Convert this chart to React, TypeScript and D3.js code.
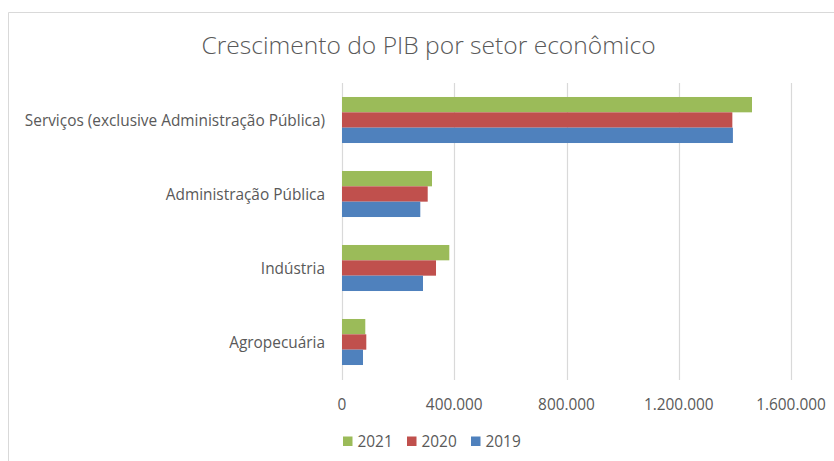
import * as d3 from 'd3';

const categories = [
  'Serviços (exclusive Administração Pública)',
  'Administração Pública',
  'Indústria',
  'Agropecuária',
];
const seriesNames = ['2021', '2020', '2019'];
const seriesColors = ['#9BBB59', '#C0504D', '#4F81BD'];
const values2021 = [1461000, 320700, 382400, 83000];
const values2020 = [1391000, 305400, 335000, 86600];
const values2019 = [1393000, 279000, 288600, 74800];
const xTicks = [0, 400000, 800000, 1200000, 1600000];

const W = 834;
const H = 461;
const textColor = '#595959';
const font = '"Open Sans", Lato, sans-serif';
const labelSize = 15.4;

const ptBR = d3.formatLocale({
  decimal: ',',
  thousands: '.',
  grouping: [3],
  currency: ['R$', ''],
});
const fmt = ptBR.format(',.0f');

export default function App() {
  const seriesValues = [values2021, values2020, values2019];

  // plot area
  const x = d3.scaleLinear().domain([0, 1600000]).range([342, 791]);
  const y = d3
    .scaleBand<string>()
    .domain(categories)
    .range([83, 379])
    .paddingInner(0.378)
    .paddingOuter(0.189);
  const ySub = d3.scaleBand<string>().domain(seriesNames).range([0, y.bandwidth()]);

  return (
    <svg
      width={W}
      height={H}
      style={{ position: 'absolute', left: 0, top: 0, background: '#fff' }}
      fontFamily={font}
    >
      <rect x={0} y={0} width={W} height={H} fill="#fff" />
      {/* chart border */}
      <path d={`M8.5,${H} V12.5 H${W}`} fill="none" stroke="#D9D9D9" strokeWidth={1} />

      <text
        x={428.5}
        y={44}
        textAnchor="middle"
        dominantBaseline="central"
        fontSize={24.6}
        fontWeight={300}
        fill={textColor}
      >
        Crescimento do PIB por setor econômico
      </text>

      {/* gridlines */}
      {xTicks.map((t) => (
        <line
          key={t}
          x1={Math.round(x(t)) + 0.5}
          x2={Math.round(x(t)) + 0.5}
          y1={83}
          y2={380}
          stroke="#D9D9D9"
          strokeWidth={1.2}
        />
      ))}

      {/* bars */}
      {categories.map((c, i) => (
        <g key={c} transform={`translate(0,${y(c)})`}>
          {seriesNames.map((s, j) => (
            <rect
              key={s}
              x={x(0)}
              y={ySub(s)}
              width={x(seriesValues[j][i]) - x(0)}
              height={ySub.bandwidth()}
              fill={seriesColors[j]}
            />
          ))}
        </g>
      ))}

      {/* category labels */}
      {categories.map((c) => (
        <text
          key={c}
          x={325}
          y={(y(c) ?? 0) + y.bandwidth() / 2}
          textAnchor="end"
          dominantBaseline="central"
          fontSize={labelSize}
          fill={textColor}
        >
          {c}
        </text>
      ))}

      {/* x tick labels */}
      {xTicks.map((t) => (
        <text
          key={t}
          x={x(t)}
          y={404}
          textAnchor="middle"
          dominantBaseline="central"
          fontSize={labelSize}
          fill={textColor}
        >
          {fmt(t)}
        </text>
      ))}

      {/* legend */}
      {seriesNames.map((s, j) => (
        <g key={s} transform={`translate(${343 + j * 64},441)`}>
          <rect x={0} y={-4.5} width={9.5} height={9.5} fill={seriesColors[j]} />
          <text x={14.5} y={0} dominantBaseline="central" fontSize={labelSize} fill={textColor}>
            {s}
          </text>
        </g>
      ))}
    </svg>
  );
}
